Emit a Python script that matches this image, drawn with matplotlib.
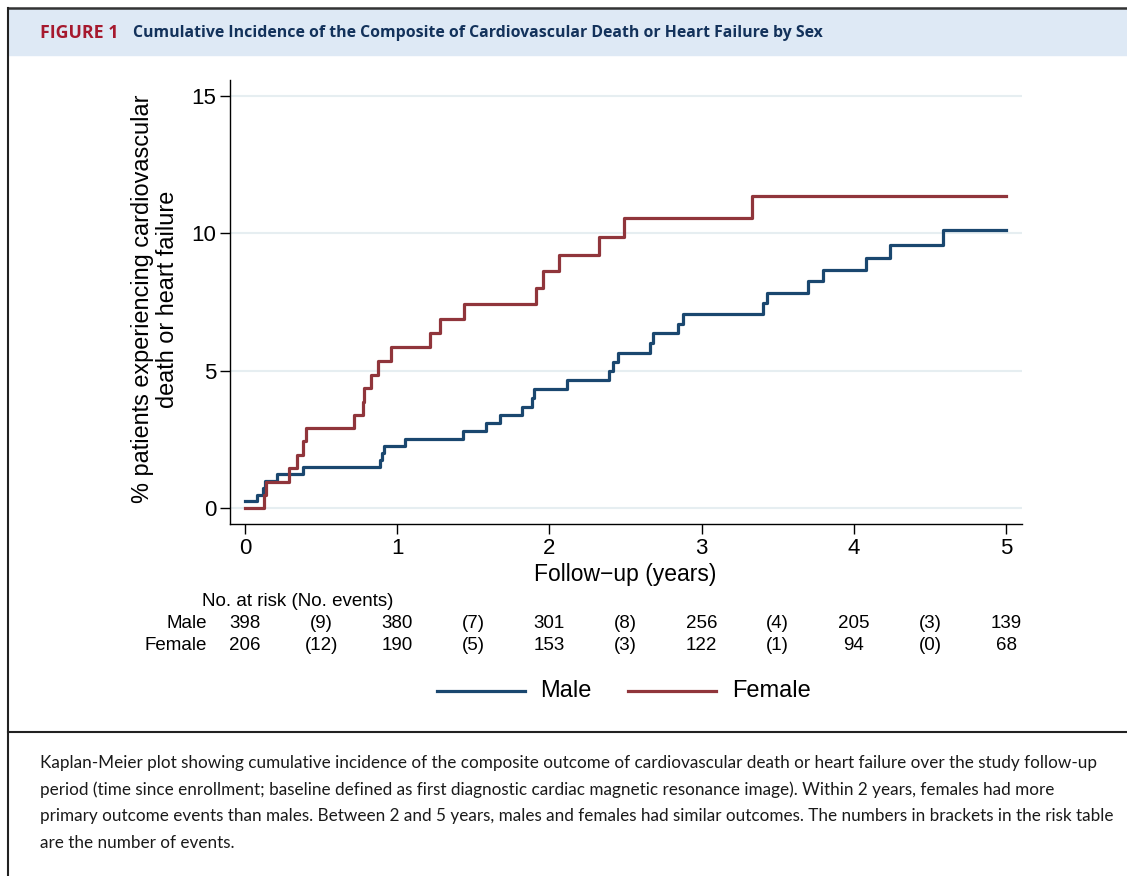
import matplotlib
matplotlib.use("Agg")
import matplotlib.pyplot as plt
from matplotlib.lines import Line2D
from matplotlib.patches import Rectangle
import matplotlib.transforms as mtransforms

# Kaplan-Meier step data (years, % with event)
male_t = [0, 0.077, 0.118, 0.131, 0.208, 0.383, 0.887, 0.90, 0.913, 1.051,
          1.434, 1.581, 1.675, 1.822, 1.888, 1.901, 2.114, 2.392, 2.42, 2.453,
          2.661, 2.683, 2.847, 2.876, 3.405, 3.428, 3.697, 3.796, 4.08, 4.238,
          4.588, 5.0]
male_v = [0.25, 0.5, 0.75, 1.0, 1.25, 1.5, 1.76, 2.02, 2.28, 2.53,
          2.81, 3.11, 3.39, 3.69, 4.02, 4.34, 4.67, 4.98, 5.33, 5.66,
          6.02, 6.36, 6.70, 7.07, 7.45, 7.84, 8.27, 8.67, 9.11, 9.57,
          10.12, 10.12]

female_t = [0, 0.127, 0.136, 0.289, 0.344, 0.383, 0.40, 0.718, 0.777, 0.783,
            0.826, 0.876, 0.96, 1.216, 1.281, 1.441, 1.912, 1.956, 2.065,
            2.326, 2.49, 3.333, 5.0]
female_v = [0, 0.49, 0.97, 1.46, 1.94, 2.43, 2.91, 3.40, 3.88, 4.37,
            4.86, 5.36, 5.85, 6.36, 6.87, 7.42, 8.02, 8.63, 9.21,
            9.88, 10.55, 11.37, 11.37]

# risk table
risk_pos = [0, 0.5, 1, 1.5, 2, 2.5, 3, 3.5, 4, 4.5, 5]
male_risk = ["398", "(9)", "380", "(7)", "301", "(8)", "256", "(4)", "205", "(3)", "139"]
female_risk = ["206", "(12)", "190", "(5)", "153", "(3)", "122", "(1)", "94", "(0)", "68"]

x_ticks = [0, 1, 2, 3, 4, 5]
y_ticks = [0, 5, 10, 15]

NAVY = "#1a476f"
MAROON = "#90353b"
GRID = "#e6eef1"

W, H = 1127, 876
fig = plt.figure(figsize=(W / 100, H / 100), dpi=100)
plt.rcParams["font.family"] = ["Liberation Sans", "DejaVu Sans"]


def fx(x):
    return x / W


def fy(y):
    return 1 - y / H


# header band and frame
fig.patches.append(Rectangle((fx(8), fy(55)), 1 - fx(8), 47 / H,
                             transform=fig.transFigure, color="#dee9f5", zorder=0))
fig.add_artist(Line2D([fx(8), 1], [fy(8), fy(8)], color="#333333", lw=1.8))
fig.add_artist(Line2D([fx(8), fx(8)], [fy(8), 0], color="#222222", lw=1.5))
fig.add_artist(Line2D([fx(8), 1], [fy(732), fy(732)], color="#222222", lw=1.5))

renderer = fig.canvas.get_renderer()


def fit_text(x, y, s, width, **kw):
    # shrink/grow font so the text spans the given pixel width
    t = fig.text(fx(x), fy(y), s, **kw)
    w = t.get_window_extent(renderer).width
    t.set_fontsize(t.get_fontsize() * width / w)
    return t


fit_text(40, 33, "FIGURE 1", 78, fontsize=11, fontweight="bold", color="#a6192e",
         family=["Open Sans", "DejaVu Sans"], va="center")
fit_text(133, 33, "Cumulative Incidence of the Composite of Cardiovascular Death or Heart Failure by Sex",
         687, fontsize=11, fontweight="bold", color="#13325b",
         family=["Open Sans", "DejaVu Sans"], va="center")

caption = [
    "Kaplan-Meier plot showing cumulative incidence of the composite outcome of cardiovascular death or heart failure over the study follow-up",
    "period (time since enrollment; baseline defined as first diagnostic cardiac magnetic resonance image). Within 2 years, females had more",
    "primary outcome events than males. Between 2 and 5 years, males and females had similar outcomes. The numbers in brackets in the risk table",
    "are the number of events.",
]
cap_font = None
for i, line in enumerate(caption):
    y = 763 + i * 26.7
    if cap_font is None:
        t = fit_text(40, y, line, 1050, fontsize=12, color="#1a1a1a",
                     family=["Lato", "DejaVu Sans"], va="center")
        cap_font = t.get_fontsize()
    else:
        fig.text(fx(40), fy(y), line, fontsize=cap_font, color="#1a1a1a",
                 family=["Lato", "DejaVu Sans"], va="center")

# main axes
ax = fig.add_axes([fx(230), fy(524), 792 / W, 444 / H])
ax.set_xlim(-0.0986, 5.105)
ax.set_ylim(-0.571, 15.57)
for y in y_ticks:
    ax.axhline(y, color=GRID, lw=1.5, zorder=0)
ax.step(male_t, male_v, where="post", color=NAVY, lw=2.3, zorder=3)
ax.step(female_t, female_v, where="post", color=MAROON, lw=2.3, zorder=3)

for s in ["top", "right"]:
    ax.spines[s].set_visible(False)
for s in ["left", "bottom"]:
    ax.spines[s].set_linewidth(1.0)
ax.set_xticks(x_ticks)
ax.set_yticks(y_ticks)
ax.tick_params(axis="both", length=7, width=1.0, labelsize=16, pad=3)

fig.text(fx(143), fy(299), "% patients experiencing cardiovascular", rotation=90,
         ha="center", va="center", fontsize=16.9)
fig.text(fx(167), fy(299), "death or heart failure", rotation=90,
         ha="center", va="center", fontsize=16.9)
fig.text(fx(625), fy(575), "Follow\u2212up (years)", ha="center", va="center", fontsize=16.5)

# risk table, x in data units, y in figure units
trans = mtransforms.blended_transform_factory(ax.transData, fig.transFigure)
fig.text(fx(202), fy(601), "No. at risk (No. events)", ha="left", va="center", fontsize=13.5)
fig.text(fx(207), fy(623), "Male", ha="right", va="center", fontsize=13.5)
fig.text(fx(207), fy(645), "Female", ha="right", va="center", fontsize=13.5)
for p, m, f in zip(risk_pos, male_risk, female_risk):
    ax.text(p, fy(623), m, transform=trans, ha="center", va="center", fontsize=13.5, clip_on=False)
    ax.text(p, fy(645), f, transform=trans, ha="center", va="center", fontsize=13.5, clip_on=False)

# legend
fig.add_artist(Line2D([fx(437), fx(525)], [fy(691), fy(691)], color=NAVY, lw=2.3))
fig.text(fx(540), fy(691), "Male", ha="left", va="center", fontsize=17)
fig.add_artist(Line2D([fx(628), fx(716)], [fy(691), fy(691)], color=MAROON, lw=2.3))
fig.text(fx(732), fy(691), "Female", ha="left", va="center", fontsize=17)

fig.savefig("out.png", dpi=100)
